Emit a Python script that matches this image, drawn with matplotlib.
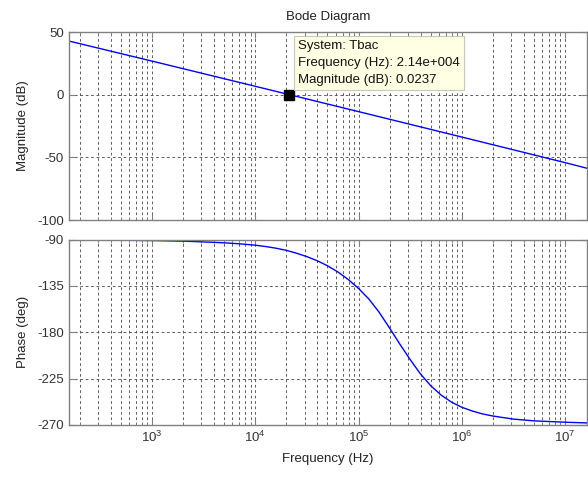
import matplotlib.pyplot as plt
from matplotlib.ticker import LogLocator, NullFormatter, FixedLocator

plt.rcParams['font.family'] = ['Liberation Sans', 'DejaVu Sans']
plt.rcParams['mathtext.fontset'] = 'custom'
plt.rcParams['mathtext.rm'] = 'Liberation Sans'
plt.rcParams['mathtext.default'] = 'regular'
plt.rcParams['axes.unicode_minus'] = False

# Magnitude curve (Hz, dB)
mag_freq = [1.57e2, 1e3, 1e4, 2.14e4, 1e5, 1e6, 1e7, 1.63e7]
mag_db = [42.8, 26.8, 6.7, 0.0237, -13.5, -33.8, -54.2, -58.7]

# Phase curve (Hz, deg)
phase_freq = [1.57e2, 3.16e2, 1e3, 2.0e3, 3.16e3, 5.01e3, 7.08e3, 1e4, 1.26e4,
              1.58e4, 2.0e4, 2.51e4, 3.16e4, 3.98e4, 5.01e4, 6.31e4, 7.94e4,
              1e5, 1.26e5, 1.58e5, 2.0e5, 2.51e5, 3.16e5, 3.98e5, 5.01e5,
              6.31e5, 7.94e5, 1e6, 1.26e6, 1.58e6, 2.0e6, 3.16e6, 5.01e6,
              1e7, 1.63e7]
phase_deg = [-90.3, -90.5, -91.0, -91.6, -92.3, -93.2, -94.2, -95.5, -96.8,
             -98.4, -100.5, -103.3, -106.6, -110.6, -115.5, -121.5, -128.8,
             -137.5, -147.8, -160.5, -176, -191.5, -206.5, -220.5, -232,
             -241, -247.8, -252.8, -256.4, -259.2, -261.3, -264.3, -266,
             -267.3, -268]

# Data tip
tip_freq = 2.14e4
tip_mag = 0.0237
tip_text = "System: Tbac\nFrequency (Hz): 2.14e+004\nMagnitude (dB): 0.0237"

mag_ticks = [-100, -50, 0, 50]
phase_ticks = [-270, -225, -180, -135, -90]

fig = plt.figure(figsize=(5.88, 4.78), dpi=100)
ax1 = fig.add_axes([0.1173, 0.5397, 0.8810, 0.3933])
ax2 = fig.add_axes([0.1173, 0.1109, 0.8810, 0.3880])

frame = '#808080'
grid_kw = dict(color='#505050', linestyle=(0, (3, 3)), linewidth=0.65)

for ax in (ax1, ax2):
    ax.set_xscale('log')
    ax.set_xlim(1.57e2, 1.63e7)
    ax.xaxis.set_major_locator(LogLocator(base=10, numticks=20))
    ax.xaxis.set_minor_locator(LogLocator(base=10, subs=range(2, 10), numticks=100))
    ax.xaxis.set_minor_formatter(NullFormatter())
    ax.grid(True, which='major', **grid_kw)
    ax.grid(True, which='minor', axis='x', **grid_kw)
    for s in ax.spines.values():
        s.set_color(frame)
        s.set_linewidth(1.0)
    ax.tick_params(which='both', direction='in', top=True, right=True,
                   colors=frame, labelcolor='#333333', labelsize=9.5)
    ax.tick_params(which='major', length=4)
    ax.tick_params(which='minor', length=2)

ax1.plot(mag_freq, mag_db, color='#0000FF', linewidth=1.0)
ax1.set_ylim(-100, 50)
ax1.yaxis.set_major_locator(FixedLocator(mag_ticks))
ax1.tick_params(axis='x', which='both', labelbottom=False)
ax1.set_ylabel('Magnitude (dB)', fontsize=9.5, color='#222222', labelpad=6)
ax1.set_title('Bode Diagram', fontsize=9.5, color='#222222', pad=9)

ax1.plot([tip_freq], [tip_mag], marker='s', markersize=6.5, color='black',
         linestyle='none', zorder=5)
ax1.annotate(tip_text, xy=(tip_freq, tip_mag), xytext=(6.3, 6.5),
             textcoords='offset points', ha='left', va='bottom',
             fontsize=9.5, linespacing=1.55, color='#111111', zorder=6,
             bbox=dict(boxstyle='square,pad=0.3', fc='#FFFFE4', ec='#C8C8B8', lw=0.8))

ax2.plot(phase_freq, phase_deg, color='#0000FF', linewidth=1.0)
ax2.set_ylim(-270, -90)
ax2.yaxis.set_major_locator(FixedLocator(phase_ticks))
ax2.set_ylabel('Phase (deg)', fontsize=9.5, color='#222222', labelpad=6)
ax2.set_xlabel('Frequency (Hz)', fontsize=9.5, color='#222222', labelpad=6)

fig.savefig('out.png', dpi=100)
